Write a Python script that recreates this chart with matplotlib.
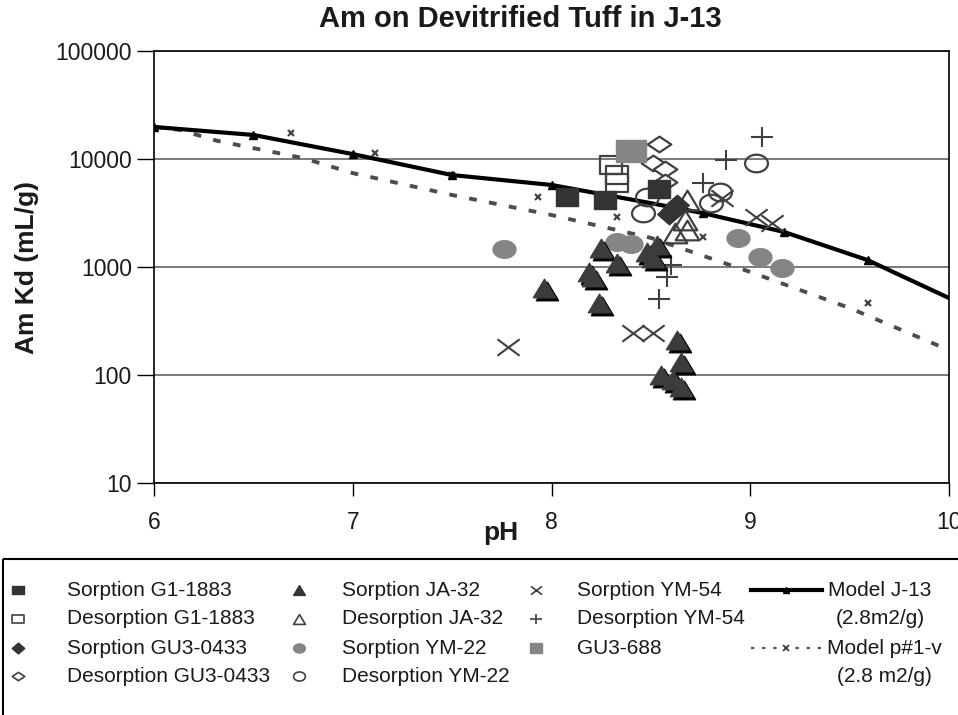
import matplotlib
matplotlib.use("Agg")
import matplotlib.pyplot as plt
import numpy as np
from matplotlib.path import Path
from matplotlib.patches import Rectangle
from matplotlib.transforms import offset_copy

plt.rcParams["font.family"] = ["Liberation Sans", "DejaVu Sans"]

# ---------------------------------------------------------------------------
# Data (pH, Kd in mL/g)
# ---------------------------------------------------------------------------
j13_ph = [6.0, 6.5, 7.0, 7.5, 8.0, 8.5, 8.76, 9.17, 9.59, 10.0]
j13_kd = [19800, 16700, 11100, 7100, 5750, 3900, 3160, 2110, 1160, 516]
j13_marks = [0, 1, 2, 3, 4, 6, 7, 8]

p1v_ph = [6.0, 6.13, 6.32, 6.52, 6.75, 7.0, 7.5, 8.0, 8.5, 9.0, 9.5, 10.0]
p1v_kd = [19800, 18600, 14700, 12400, 10200, 7400, 4640, 3030, 1860, 900, 417, 170]
p1v_mark_ph = [6.69, 7.11, 7.5, 7.93, 8.33, 8.76, 9.16, 9.59]
p1v_mark_kd = [17400, 11400, 7100, 4450, 2900, 1900, 980, 465]

sorp_g1_ph = [8.08, 8.27, 8.54]
sorp_g1_kd = [4450, 4170, 5300]
desorp_g1_ph = [8.30, 8.33, 8.33]
desorp_g1_kd = [8800, 7100, 6000]

sorp_gu3_ph = [8.59, 8.61, 8.63]
sorp_gu3_kd = [3100, 3400, 3750]
desorp_gu3_ph = [8.54, 8.51, 8.57, 8.57]
desorp_gu3_kd = [13800, 9200, 8100, 6100]

sorp_ja_ph = [8.25, 8.19, 8.21, 8.33, 8.48, 8.53, 8.51, 7.96, 8.24, 8.63, 8.65, 8.55, 8.61, 8.65]
sorp_ja_kd = [1500, 900, 800, 1090, 1380, 1590, 1200, 640, 465, 211, 132, 100, 90, 77]
desorp_ja_ph = [8.68, 8.67, 8.62, 8.68]
desorp_ja_kd = [4170, 2720, 2070, 2200]

sorp_ym22_ph = [7.76, 8.33, 8.40, 8.94, 9.05, 9.16]
sorp_ym22_kd = [1470, 1700, 1630, 1850, 1240, 980]
desorp_ym22_ph = [8.46, 8.48, 8.80, 8.85, 9.03]
desorp_ym22_kd = [3160, 4450, 3900, 4940, 9200]

sorp_ym54_ph = [7.78, 8.41, 8.51, 8.86, 9.03, 9.11]
sorp_ym54_kd = [182, 245, 245, 4360, 2900, 2550]
desorp_ym54_ph = [9.06, 8.88, 8.76, 8.58, 8.54, 8.60]
desorp_ym54_kd = [16000, 9800, 6000, 810, 506, 1050]

gu3_688_ph = [8.40]
gu3_688_kd = [11900]

y_ticks = [10, 100, 1000, 10000, 100000]
x_ticks = [6, 7, 8, 9, 10]

# ---------------------------------------------------------------------------
# Marker shapes (the source image is stretched horizontally)
# ---------------------------------------------------------------------------
_t = np.linspace(0, 2 * np.pi, 41)
M_RECT = Path([(-1.3, -1), (1.3, -1), (1.3, 1), (-1.3, 1), (-1.3, -1)], closed=True)
M_ELL = Path(np.column_stack([1.3 * np.cos(_t), np.sin(_t)]), closed=True)
M_TRI = Path([(0, 1), (1.2, -1), (-1.2, -1), (0, 1)], closed=True)
M_DIA = Path([(0, 1), (1.5, 0), (0, -1), (-1.5, 0), (0, 1)], closed=True)
M_DIA_F = Path([(0, 1), (1.15, 0), (0, -1), (-1.15, 0), (0, 1)], closed=True)
M_X = Path([(-1.35, -1), (1.35, 1), (-1.35, 1), (1.35, -1)],
           [Path.MOVETO, Path.LINETO, Path.MOVETO, Path.LINETO])
M_PLUS = Path([(-1.3, 0), (1.3, 0), (0, -1.2), (0, 1.2)],
              [Path.MOVETO, Path.LINETO, Path.MOVETO, Path.LINETO])

DARK = "#333333"
EDGE = "#404040"
GREY = "#858585"
TXT = "#1a1a1a"

fig = plt.figure(figsize=(9.58, 7.15), dpi=100)
ax = fig.add_axes([154 / 958, 1 - 483 / 715, 795 / 958, 432 / 715])

# models
ax.plot(p1v_ph, p1v_kd, color="#4d4d4d", lw=2.8, dashes=(2.0, 3.2), zorder=2)
ax.plot(p1v_mark_ph, p1v_mark_kd, ls="none", marker="x", ms=5, mew=1.6,
        color="#444444", zorder=2)
ax.plot(j13_ph, j13_kd, color="black", lw=3, marker="^", ms=6,
        markevery=j13_marks, zorder=3)

# desorption (open markers)
ax.plot(desorp_gu3_ph, desorp_gu3_kd, ls="none", marker=M_DIA, ms=17,
        mfc="white", mec=EDGE, mew=1.6, zorder=4)
ax.plot(desorp_g1_ph, desorp_g1_kd, ls="none", marker=M_RECT, ms=16.5,
        mfc="none", mec=EDGE, mew=1.6, zorder=4)
ax.plot(desorp_ym22_ph, desorp_ym22_kd, ls="none", marker=M_ELL, ms=16.5,
        mfc="none", mec=EDGE, mew=1.6, zorder=4)
ax.plot(desorp_ja_ph, desorp_ja_kd, ls="none", marker=M_TRI, ms=17,
        mfc="none", mec=EDGE, mew=1.6, zorder=4)
ax.plot(sorp_ym54_ph, sorp_ym54_kd, ls="none", marker=M_X, ms=16,
        mec=EDGE, mew=1.5, zorder=4)
ax.plot(desorp_ym54_ph, desorp_ym54_kd, ls="none", marker=M_PLUS, ms=16,
        mec=EDGE, mew=1.5, zorder=4)

# sorption (filled markers)
ax.plot(sorp_ym22_ph, sorp_ym22_kd, ls="none", marker=M_ELL, ms=16.5,
        mfc=GREY, mec=GREY, zorder=5)
shadow = offset_copy(ax.transData, fig=fig, x=3, y=-3, units="dots")
ax.plot(sorp_ja_ph, sorp_ja_kd, ls="none", marker=M_TRI, ms=16,
        mfc="black", mec="black", transform=shadow, zorder=5)
ax.plot(sorp_ja_ph, sorp_ja_kd, ls="none", marker=M_TRI, ms=16,
        mfc="#3c3c3c", mec="#3c3c3c", zorder=5)
ax.plot(sorp_g1_ph, sorp_g1_kd, ls="none", marker=M_RECT, ms=16.5,
        mfc=DARK, mec=DARK, zorder=6)
ax.plot(sorp_gu3_ph, sorp_gu3_kd, ls="none", marker=M_DIA_F, ms=17,
        mfc=DARK, mec=DARK, zorder=6)
ax.plot(gu3_688_ph, gu3_688_kd, ls="none", marker=M_RECT, ms=21.5,
        mfc=GREY, mec=GREY, zorder=6)

ax.set_yscale("log")
ax.set_xlim(6, 10)
ax.set_ylim(10, 100000)
ax.set_xticks(x_ticks)
ax.set_xticklabels([str(v) for v in x_ticks])
ax.set_yticks(y_ticks)
ax.set_yticklabels([str(v) for v in y_ticks])
ax.yaxis.set_minor_locator(matplotlib.ticker.NullLocator())
ax.tick_params(axis="x", direction="out", length=9, width=1, pad=11,
               labelsize=16.5, labelcolor=TXT)
ax.tick_params(axis="y", direction="out", length=12, width=1, pad=4,
               labelsize=16.5, labelcolor=TXT)
ax.grid(axis="y", color="#707070", lw=1.3)
ax.set_axisbelow(True)
for s in ax.spines.values():
    s.set_color("black")
    s.set_linewidth(1.2)

ax.set_xlabel("pH", fontsize=19, fontweight="bold", va="center", color=TXT)
ax.xaxis.set_label_coords((501 - 154) / 795, (483 - 533) / 432)
ax.set_ylabel("Am Kd (mL/g)", fontsize=19, fontweight="bold", va="center", color=TXT)
ax.yaxis.set_label_coords((27 - 154) / 795, 0.5)
fig.text(520 / 958, 1 - 19 / 715, "Am on Devitrified Tuff in J-13",
         ha="center", va="center", fontsize=21, fontweight="bold", color=TXT)

# ---------------------------------------------------------------------------
# Legend drawn in pixel coordinates below the plot
# ---------------------------------------------------------------------------
lax = fig.add_axes([0, 0, 1, 1], zorder=-1)
lax.set_xlim(0, 958)
lax.set_ylim(715, 0)
lax.axis("off")
lax.add_patch(Rectangle((3, 559), 1000, 300, fill=False, ec="black", lw=1.5))

rows = [590, 619, 648, 676]
legend_items = [
    (18, 67, 0, "Sorption G1-1883", dict(marker=M_RECT, ms=8, mfc=DARK, mec=DARK)),
    (18, 67, 1, "Desorption G1-1883", dict(marker=M_RECT, ms=8, mfc="none", mec=EDGE, mew=1.2)),
    (18, 67, 2, "Sorption GU3-0433", dict(marker=M_DIA_F, ms=9, mfc=DARK, mec=DARK)),
    (18, 67, 3, "Desorption GU3-0433", dict(marker=M_DIA, ms=9, mfc="none", mec=EDGE, mew=1.2)),
    (299, 342, 0, "Sorption JA-32", dict(marker=M_TRI, ms=8.5, mfc=DARK, mec=DARK)),
    (299, 342, 1, "Desorption JA-32", dict(marker=M_TRI, ms=8.5, mfc="none", mec=EDGE, mew=1.2)),
    (299, 342, 2, "Sorption YM-22", dict(marker=M_ELL, ms=8.5, mfc=GREY, mec=GREY)),
    (299, 342, 3, "Desorption YM-22", dict(marker=M_ELL, ms=8.5, mfc="none", mec=EDGE, mew=1.2)),
    (536, 577, 0, "Sorption YM-54", dict(marker=M_X, ms=8, mec=EDGE, mew=1.2)),
    (536, 577, 1, "Desorption YM-54", dict(marker=M_PLUS, ms=8.5, mec=EDGE, mew=1.2)),
    (536, 577, 2, "GU3-688", dict(marker=M_RECT, ms=8.5, mfc=GREY, mec=GREY)),
]
for mx, tx, r, label, style in legend_items:
    lax.plot([mx], [rows[r]], ls="none", **style)
    lax.text(tx, rows[r], label, fontsize=15, va="center", ha="left", color=TXT)

lax.plot([751, 822], [rows[0], rows[0]], color="black", lw=3)
lax.plot([786], [rows[0]], marker="^", ms=5, color="black")
lax.plot([751, 822], [rows[2], rows[2]], color="#555555", lw=1.6, dashes=(1.5, 3.5))
lax.plot([786], [rows[2]], marker="x", ms=4, mew=1.3, color="#444444")
lax.text(880, rows[0], "Model J-13", fontsize=15, ha="center", va="center", color=TXT)
lax.text(880, rows[1], "(2.8m2/g)", fontsize=15, ha="center", va="center", color=TXT)
lax.text(884, rows[2], "Model p#1-v", fontsize=15, ha="center", va="center", color=TXT)
lax.text(884, rows[3], "(2.8 m2/g)", fontsize=15, ha="center", va="center", color=TXT)

fig.savefig("out.png", dpi=100)
